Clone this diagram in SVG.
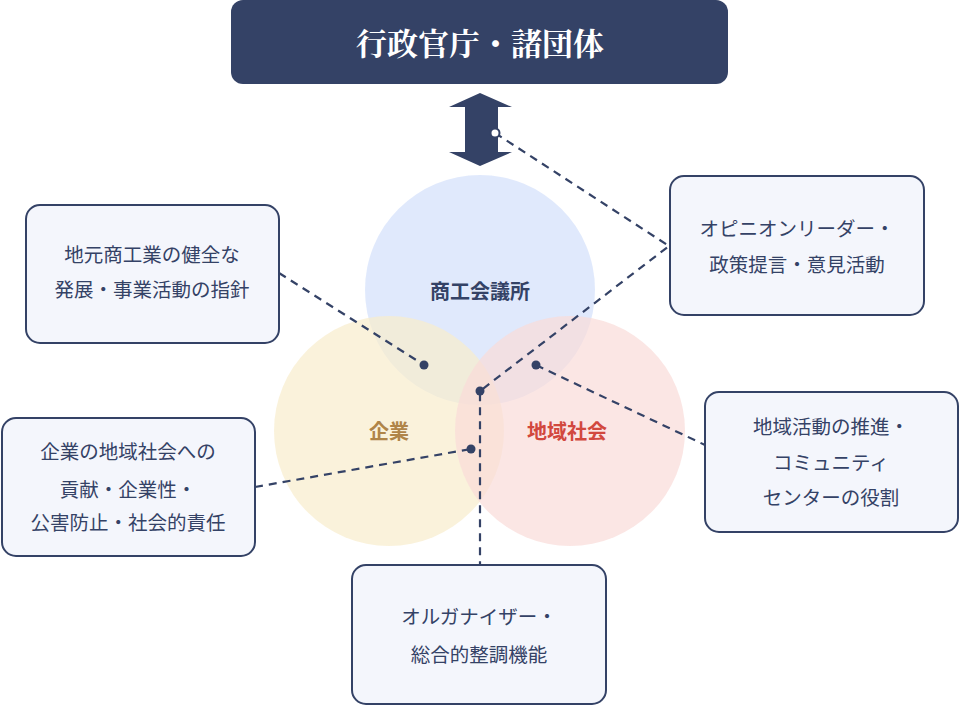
<svg xmlns="http://www.w3.org/2000/svg" width="960" height="706" viewBox="0 0 960 706">
<style>
.box{fill:#f4f6fc;stroke:#344266;stroke-width:2}
.t{font-family:"Noto Sans CJK JP",sans-serif;font-size:19.5px;fill:#344266;text-anchor:middle}
.c{font-family:"Noto Sans CJK JP",sans-serif;font-size:20px;font-weight:bold;text-anchor:middle}
.dash{stroke:#344266;stroke-width:2.2;stroke-dasharray:8 6;fill:none}
.dot{fill:#344266}
</style>
<rect width="960" height="706" fill="#fff"/>
<g id="top">
<rect x="231" y="0" width="497" height="84" rx="12" fill="#344266"/>
<text x="480" y="55" font-family="'Noto Serif CJK JP','Noto Sans CJK JP',serif" font-size="31" fill="#fff" text-anchor="middle" font-weight="bold">行政官庁・諸団体</text>
</g>
<g id="arrow">
<polygon points="480,93 512,107 498,107 498,152 512,152 480,166 449,152 465,152 465,107 449,107" fill="#344266"/>
</g>
<g id="circles">
<circle cx="480" cy="290" r="115" fill="#d6e2fb" opacity="0.75"/>
<circle cx="389" cy="431" r="115" fill="#f8edcc" opacity="0.7"/>
<circle cx="570" cy="431" r="115" fill="#f9dcd9" opacity="0.7"/>
<text class="c" x="480" y="299" fill="#344266">商工会議所</text>
<text class="c" x="389" y="439" fill="#b08548">企業</text>
<text class="c" x="567" y="439" fill="#d2483e">地域社会</text>
</g>
<g id="connectors">
<polyline class="dash" points="495,133 669,246 480,391 480,564"/>
<line class="dash" x1="279" y1="273" x2="424" y2="365"/>
<line class="dash" x1="255" y1="487" x2="471" y2="449"/>
<line class="dash" x1="536" y1="365" x2="705" y2="445"/>
<circle class="dot" cx="424" cy="365" r="4.5"/>
<circle class="dot" cx="471" cy="449" r="4.5"/>
<circle class="dot" cx="536" cy="365" r="4.5"/>
<circle class="dot" cx="480" cy="391" r="4.5"/>
<circle cx="495" cy="133" r="4.5" fill="#fff" stroke="#344266" stroke-width="2"/>
</g>
<g id="n1"><rect class="box" x="26" y="205" width="253" height="138" rx="14"/>
<text class="t" x="152" y="262">地元商工業の健全な</text><text class="t" x="152" y="297">発展・事業活動の指針</text></g>
<g id="n2"><rect class="box" x="2" y="418" width="253" height="138" rx="14"/>
<text class="t" x="128" y="459">企業の地域社会への</text><text class="t" x="128" y="497">貢献・企業性・</text><text class="t" x="128" y="530">公害防止・社会的責任</text></g>
<g id="n3"><rect class="box" x="670" y="176" width="254" height="139" rx="14"/>
<text class="t" x="797" y="236">オピニオンリーダー・</text><text class="t" x="797" y="272">政策提言・意見活動</text></g>
<g id="n4"><rect class="box" x="705" y="392" width="253" height="140" rx="14"/>
<text class="t" x="831" y="434">地域活動の推進・</text><text class="t" x="831" y="470">コミュニティ</text><text class="t" x="831" y="505">センターの役割</text></g>
<g id="n5"><rect class="box" x="352" y="565" width="254" height="139" rx="14"/>
<text class="t" x="479" y="624">オルガナイザー・</text><text class="t" x="479" y="662">総合的整調機能</text></g>
</svg>
